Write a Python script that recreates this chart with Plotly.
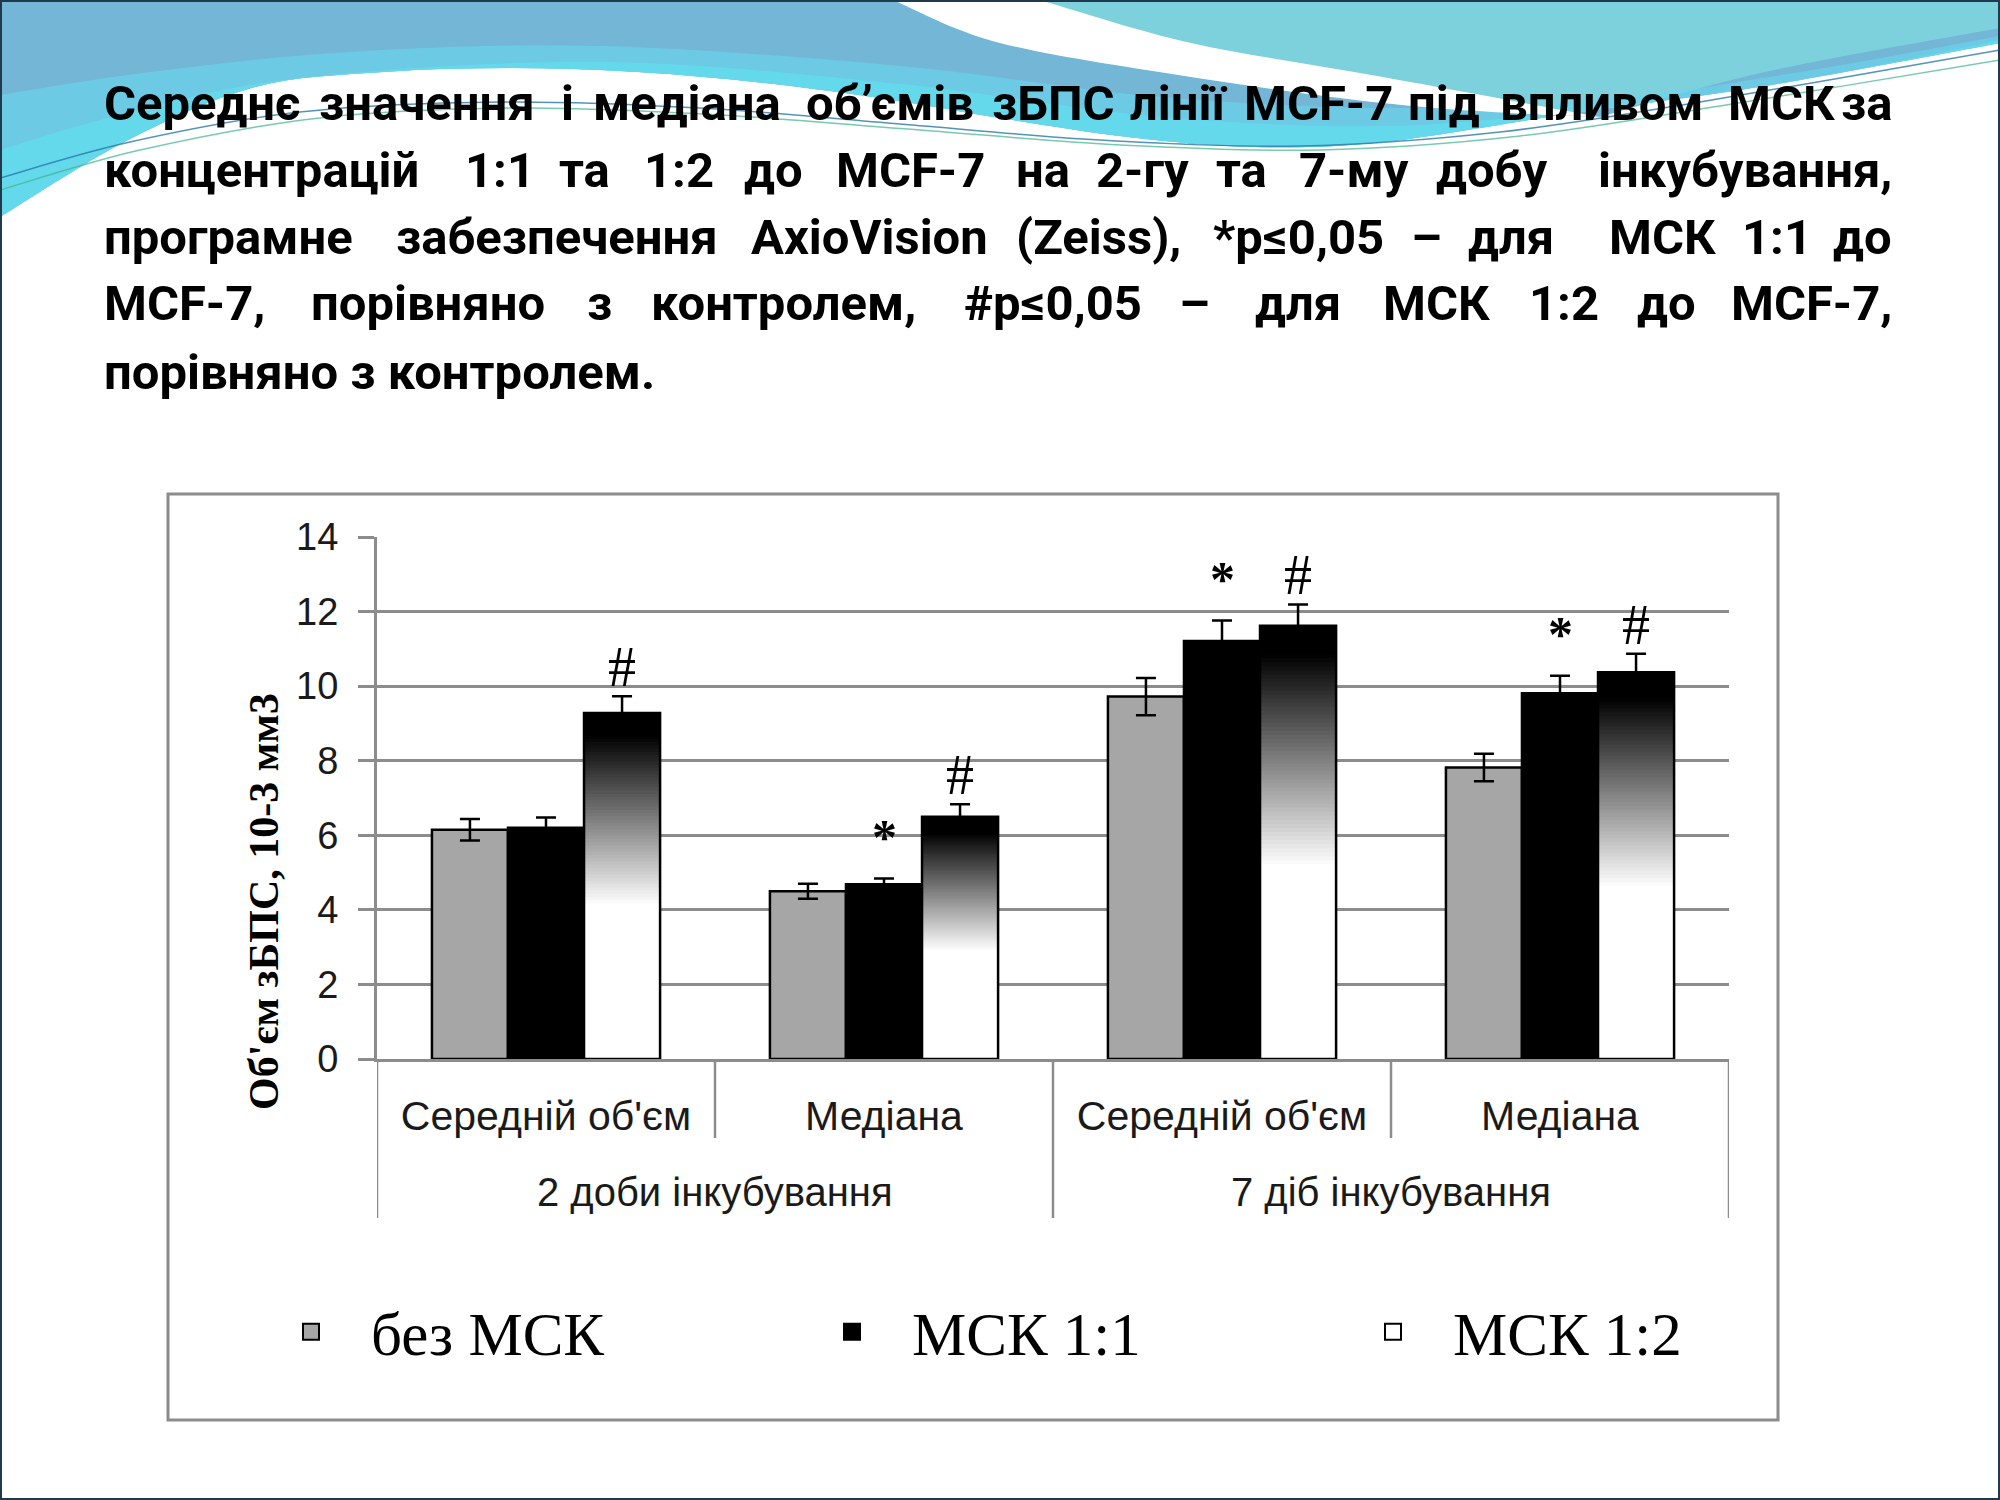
import plotly.graph_objects as go

# ---------------- data ----------------
categories = ["Середній об'єм", "Медіана", "Середній об'єм", "Медіана"]
groups = ["2 доби інкубування", "2 доби інкубування", "7 діб інкубування", "7 діб інкубування"]
series_names = ["без МСК", "МСК 1:1", "МСК 1:2"]
vals_none = [6.15, 4.50, 9.72, 7.82]
err_none = [0.29, 0.20, 0.50, 0.37]
vals_11 = [6.20, 4.69, 11.21, 9.81]
err_11 = [0.28, 0.15, 0.55, 0.47]
vals_12 = [9.28, 6.50, 11.62, 10.37]
err_12 = [0.45, 0.33, 0.57, 0.50]
star_marks = ["", "*", "*", "*"]      # significance for МСК 1:1
hash_marks = ["#", "#", "#", "#"]     # significance for МСК 1:2
y_title = "Об'єм зБПС, 10-3 мм3"
title_lines = [
    ["Середнє", "значення", "і", "медіана", "об’ємів", "зБПС", "лінії", "MCF-7", "під", "впливом", "МСК", "за"],
    ["концентрацій", "1:1", "та", "1:2", "до", "MCF-7", "на", "2-гу", "та", "7-му", "добу", "інкубування,"],
    ["програмне", "забезпечення", "AxioVision", "(Zeiss),", "*p≤0,05", "–", "для", "МСК", "1:1", "до"],
    ["MCF-7,", "порівняно", "з", "контролем,", "#p≤0,05", "–", "для", "МСК", "1:2", "до", "MCF-7,"],
    ["порівняно з контролем."],
]

# ---------------- layout geometry (pixels) ----------------
W, H = 2000, 1500
L, R, T, B = 377, 1729, 537, 1059
PW, PH = R - L, B - T

def px(x, y):
    return (x - L) / PW, (B - y) / PH

idx = list(range(len(categories)))
BW = 0.225
OFFS = [-0.3375, -0.1125, 0.1125]
colors = ["#A6A6A6", "black", "white"]

fig = go.Figure()

fig.add_trace(go.Bar(x=idx, y=vals_none, name=series_names[0], width=BW, offset=OFFS[0], showlegend=False,
                     marker=dict(color=colors[0], line=dict(color="black", width=2.5)),
                     error_y=dict(type="data", array=err_none, color="black", thickness=2.5, width=10)))
fig.add_trace(go.Bar(x=idx, y=vals_11, name=series_names[1], width=BW, offset=OFFS[1], showlegend=False,
                     marker=dict(color=colors[1], line=dict(color="black", width=2.5)),
                     error_y=dict(type="data", array=err_11, color="black", thickness=2.5, width=10)))

# gradient bar: white lower part, then white->black gradient to top (overlapping layers, no seams)
F0, F1, NSEG = 0.44, 0.93, 60
fig.add_trace(go.Bar(x=idx, y=vals_12, width=BW, offset=OFFS[2],
                     marker=dict(color="white", line=dict(width=0)), showlegend=False, hoverinfo="skip"))
for k in range(NSEG):
    lo = F0 + (1 - F0) * k / NSEG
    t = min(1.0, max(0.0, (lo - F0) / (F1 - F0)))
    g = int(round(255 * (1 - t)))
    fig.add_trace(go.Bar(x=idx, base=[v * lo for v in vals_12], y=[v * (1 - lo) for v in vals_12],
                         width=BW, offset=OFFS[2],
                         marker=dict(color=f"rgb({g},{g},{g})", line=dict(width=0)),
                         showlegend=False, hoverinfo="skip"))
fig.add_trace(go.Bar(x=idx, y=vals_12, name=series_names[2], width=BW, offset=OFFS[2], showlegend=False,
                     marker=dict(color="rgba(255,255,255,0)", line=dict(color="black", width=2.5)),
                     error_y=dict(type="data", array=err_12, color="black", thickness=2.5, width=10)))

# legend entries (square swatches like the original legend)
for nm, c in zip(series_names, colors):
    fig.add_trace(go.Scatter(x=[None], y=[None], mode="markers", name=nm,
                             marker=dict(symbol="square", size=16, color=c, line=dict(color="black", width=2))))

annotations = []
# significance marks
for i in idx:
    if star_marks[i]:
        annotations.append(dict(x=i + OFFS[1] + BW / 2, y=vals_11[i] + err_11[i], xref="x", yref="y",
                                text=star_marks[i], showarrow=False, yanchor="bottom", yshift=12,
                                font=dict(family="Liberation Serif", size=50, color="black", weight="bold")))
    if hash_marks[i]:
        annotations.append(dict(x=i + OFFS[2] + BW / 2, y=vals_12[i] + err_12[i], xref="x", yref="y",
                                text=hash_marks[i], showarrow=False, yanchor="bottom", yshift=-4,
                                font=dict(family="Liberation Serif", size=56, color="black")))

# group labels (second level of category axis)
ug = []
for g in groups:
    if g not in ug:
        ug.append(g)
for g in ug:
    members = [i for i in idx if groups[i] == g]
    cx = sum(members) / len(members)
    annotations.append(dict(x=cx, y=px(0, 1192)[1], xref="x", yref="paper", text=g, showarrow=False,
                            yanchor="middle", font=dict(family="Liberation Sans", size=40, color="#1a1a1a")))

# y axis title
annotations.append(dict(x=px(264, 0)[0], y=px(0, 902)[1], xref="paper", yref="paper", text=y_title,
                        textangle=-90, showarrow=False, xanchor="center", yanchor="middle",
                        font=dict(family="Liberation Serif", size=42, color="black", weight="bold")))

# slide title, justified word placement
line_y = [103, 170, 237, 303, 372]
word_pos = [
    [102, 427, 567, 687, 889.5, 1053, 1178, 1318.5, 1443.5, 1602, 1781, 1894],
    [102, 499.5, 584, 678.5, 773.5, 910, 1042.5, 1142.5, 1241, 1354, 1492, 1894],
    [102, 556.5, 869, 1098.5, 1298, 1426, 1510.5, 1662, 1776.5, 1894],
    [102, 427.5, 599, 783.5, 1053, 1194, 1298, 1436, 1563.5, 1666.5, 1894],
    [102],
]
tfont = dict(family="Roboto", size=49, color="black", weight="bold")
for words, xs, yy in zip(title_lines, word_pos, line_y):
    n = len(words)
    for j, (wd, xx) in enumerate(zip(words, xs)):
        if j == 0:
            anc = "left"
        elif j == n - 1:
            anc = "right"
        else:
            anc = "center"
        X, Y = px(xx, yy)
        annotations.append(dict(x=X, y=Y, xref="paper", yref="paper", text=wd, showarrow=False,
                                xanchor=anc, yanchor="middle", font=tfont))

# ---------------- shapes ----------------
def catmull(points):
    pts = points
    d = f"M{pts[0][0]:.5f},{pts[0][1]:.5f}"
    n = len(pts)
    for i in range(n - 1):
        p0 = pts[i - 1] if i > 0 else pts[i]
        p1 = pts[i]
        p2 = pts[i + 1]
        p3 = pts[i + 2] if i + 2 < n else pts[i + 1]
        c1 = (p1[0] + (p2[0] - p0[0]) / 6, p1[1] + (p2[1] - p0[1]) / 6)
        c2 = (p2[0] - (p3[0] - p1[0]) / 6, p2[1] - (p3[1] - p1[1]) / 6)
        d += f" C{c1[0]:.5f},{c1[1]:.5f} {c2[0]:.5f},{c2[1]:.5f} {p2[0]:.5f},{p2[1]:.5f}"
    return d

def pp(points):
    return [px(x, y) for x, y in points]

def cont(points):
    return " L" + catmull(pp(points))[1:]

shapes = []
x0, y0 = px(0, 0)
x1, y1 = px(W, H)
shapes.append(dict(type="rect", xref="paper", yref="paper", x0=x0, y0=y1, x1=x1, y1=y0,
                   fillcolor="white", line=dict(width=0), layer="below"))
B1 = [(0, 217), (128, 140), (255, 87), (383, 72), (510, 68), (638, 72), (765, 83), (893, 100),
      (1000, 118), (1128, 137), (1255, 147), (1383, 142), (1574, 113), (1765, 86), (2000, 43)]
# top-right teal
d = catmull(pp([(0, 0), (2000, 0)])) + cont(list(reversed(B1))) + " Z"
shapes.append(dict(type="path", xref="paper", yref="paper", layer="below", path=d,
                   fillcolor="#7DD1DC", line=dict(width=0)))
# left / lower blue region (below the white stripe)
SL = [(893, 0), (1000, 43), (1191, 77), (1383, 103), (1510, 113), (1600, 117)]
UR = [(1600, 117), (1765, 72), (2000, 28)]
d = catmull(pp([(0, 0), (893, 0)])) + cont(SL) + cont(UR) + cont(list(reversed(B1))) + " Z"
shapes.append(dict(type="path", xref="paper", yref="paper", layer="below", path=d,
                   fillcolor="#74B6D6", line=dict(width=0)))
# brighter cyan zones
LB = [(0, 95), (150, 72), (350, 52), (600, 46), (900, 66), (1150, 96), (1383, 108), (1600, 100), (1800, 72), (2000, 36)]
d = catmull(pp(LB)) + cont(list(reversed(B1))) + " Z"
shapes.append(dict(type="path", xref="paper", yref="paper", layer="below", path=d,
                   fillcolor="rgba(104,214,236,0.65)", line=dict(width=0)))
LB2 = [(0, 150), (120, 115), (300, 78), (600, 62), (900, 84), (1150, 116), (1383, 126), (1600, 108), (1800, 80), (2000, 40)]
d = catmull(pp(LB2)) + cont(list(reversed(B1))) + " Z"
shapes.append(dict(type="path", xref="paper", yref="paper", layer="below", path=d,
                   fillcolor="rgba(98,224,240,0.7)", line=dict(width=0)))
# white stripe
SU = [(1040, 0), (1191, 43), (1383, 77), (1600, 117)]
d = catmull(pp(SU)) + cont(list(reversed(SL))) + " Z"
shapes.append(dict(type="path", xref="paper", yref="paper", layer="below", path=d,
                   fillcolor="white", line=dict(width=0)))
# thin wave lines
W1 = [(0, 178), (130, 142), (300, 112), (500, 102), (700, 108), (900, 124), (1100, 140), (1300, 146),
      (1500, 132), (1700, 102), (2000, 50)]
W2 = [(0, 190), (140, 150), (320, 118), (520, 108), (720, 115), (920, 130), (1120, 145), (1320, 150),
      (1520, 136), (1720, 106), (2000, 60)]
shapes.append(dict(type="path", xref="paper", yref="paper", layer="below", path=catmull(pp(W1)),
                   line=dict(color="rgba(40,120,170,0.8)", width=1.5)))
shapes.append(dict(type="path", xref="paper", yref="paper", layer="below", path=catmull(pp(W2)),
                   line=dict(color="rgba(60,180,140,0.7)", width=1.5)))
# slide border
shapes.append(dict(type="rect", xref="paper", yref="paper", x0=x0, y0=y1, x1=x1, y1=y0,
                   fillcolor="rgba(0,0,0,0)", line=dict(color="#1e3a4c", width=4), layer="above"))
# chart frame
fx0, fy0 = px(168, 494)
fx1, fy1 = px(1778, 1420)
shapes.append(dict(type="rect", xref="paper", yref="paper", x0=fx0, y0=fy1, x1=fx1, y1=fy0,
                   fillcolor="white", line=dict(color="#8c8c8c", width=3), layer="below"))
# category dividers
for i in idx[:-1]:
    outer = groups[i] != groups[i + 1]
    ybot = px(0, 1218 if outer else 1138)[1]
    shapes.append(dict(type="line", xref="x", yref="paper", x0=i + 0.5, x1=i + 0.5, y0=0, y1=ybot,
                       line=dict(color="#8c8c8c", width=2.5)))
for xe in (-0.5, len(idx) - 0.5):
    shapes.append(dict(type="line", xref="x", yref="paper", x0=xe, x1=xe, y0=0, y1=px(0, 1218)[1],
                       line=dict(color="#8c8c8c", width=2.5)))

IW = 110
lx, ly = px(311 - (IW / 2 + 5), 1332)
fig.update_layout(
    width=W, height=H, autosize=False,
    margin=dict(l=L, r=W - R, t=T, b=H - B, pad=0),
    paper_bgcolor="white", plot_bgcolor="rgba(0,0,0,0)",
    barmode="overlay",
    showlegend=True,
    legend=dict(orientation="h", x=lx, y=ly, xanchor="left", yanchor="middle",
                entrywidth=416, entrywidthmode="pixels", itemwidth=IW, itemsizing="trace",
                font=dict(family="Liberation Serif", size=61, color="black"),
                bgcolor="rgba(0,0,0,0)", traceorder="normal"),
    xaxis=dict(range=[-0.5, len(idx) - 0.5], tickmode="array", tickvals=idx, ticktext=categories,
               showgrid=False, zeroline=False, showline=True, linecolor="#8c8c8c", linewidth=3,
               ticks="", ticklabelstandoff=19,
               tickfont=dict(family="Liberation Sans", size=41, color="#1a1a1a")),
    yaxis=dict(range=[0, 14], tickvals=[0, 2, 4, 6, 8, 10, 12, 14], showgrid=True, gridcolor="#8c8c8c",
               gridwidth=3, zeroline=False, showline=True, linecolor="#8c8c8c", linewidth=3,
               ticks="outside", ticklen=16, tickwidth=3, tickcolor="#8c8c8c", ticklabelstandoff=12,
               tickfont=dict(family="Liberation Sans", size=38, color="#1a1a1a")),
    annotations=annotations,
    shapes=shapes,
)

fig.write_html("out.html", config={"displayModeBar": False},
               post_script="document.body.style.margin='0';")
